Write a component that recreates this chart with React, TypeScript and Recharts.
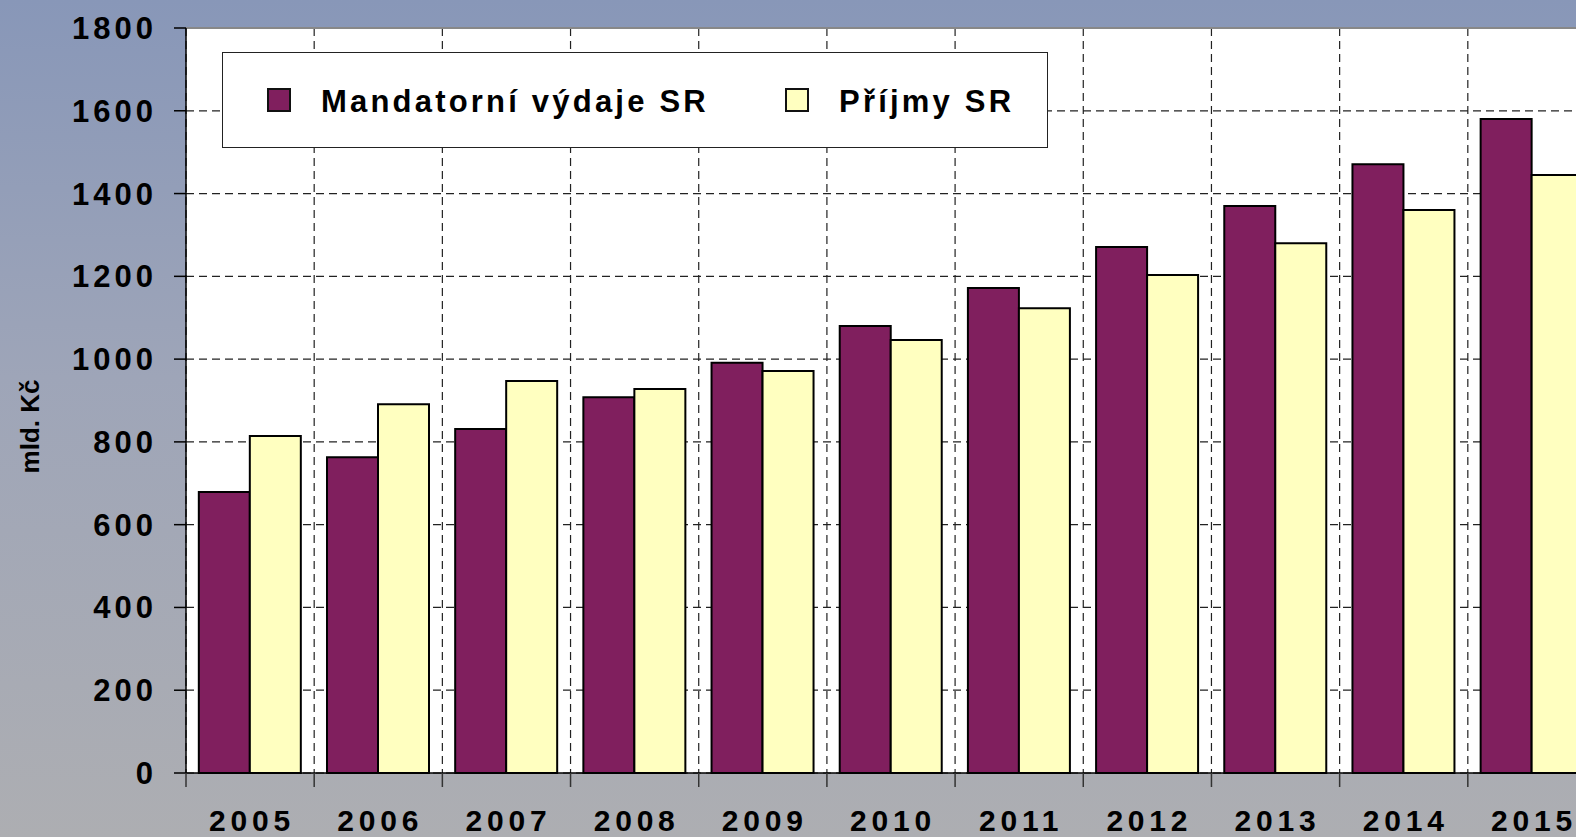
import React from "react";
import {
  BarChart,
  Bar,
  XAxis,
  YAxis,
  CartesianGrid,
  Legend,
  ReferenceLine,
} from "recharts";

const years = ["2005", "2006", "2007", "2008", "2009", "2010", "2011", "2012", "2013", "2014", "2015"];
const mandatory = [679, 763, 831, 908, 991, 1080, 1172, 1271, 1370, 1471, 1580];
const revenues = [814, 891, 947, 928, 971, 1046, 1123, 1203, 1280, 1360, 1445];
const yTicks = [0, 200, 400, 600, 800, 1000, 1200, 1400, 1600, 1800];
const seriesNames = ["Mandatorní výdaje SR", "Příjmy SR"];
const seriesColors = ["#801F5E", "#FFFFC0"];

const data = years.map((year, i) => ({
  year,
  mandatory: mandatory[i],
  revenues: revenues[i],
}));

const FONT = "'Liberation Sans', Arial, sans-serif";
const TICK_LEN = 14;
const X_LABEL_GAP = 37;

const LegendBox = () => (
  <div
    style={{
      width: 826,
      height: 96,
      boxSizing: "border-box",
      background: "#fff",
      border: "1.5px solid #222",
      display: "flex",
      alignItems: "center",
      paddingLeft: 44,
      paddingTop: 4,
      fontFamily: FONT,
      fontWeight: "bold",
      fontSize: 31,
      letterSpacing: 3.2,
      color: "#000",
    }}
  >
    {seriesNames.map((name, i) => (
      <div key={name} style={{ display: "flex", alignItems: "center", width: i === 0 ? 518 : "auto" }}>
        <span
          style={{
            display: "inline-block",
            width: 24,
            height: 24,
            boxSizing: "border-box",
            background: seriesColors[i],
            border: "2px solid #111",
            marginRight: 30,
            marginTop: -4,
          }}
        />
        <span>{name}</span>
      </div>
    ))}
  </div>
);

const YLabel = (props: any) => {
  const vb = props.viewBox || {};
  const x = 30;
  const y = (vb.y || 0) + (vb.height || 0) / 2 + 26;
  return (
    <text
      x={x}
      y={y}
      transform={`rotate(-90, ${x}, ${y})`}
      textAnchor="middle"
      dominantBaseline="central"
      style={{ fontFamily: FONT, fontWeight: "bold", fontSize: 26, fill: "#000" }}
    >
      mld. Kč
    </text>
  );
};

// year label in the middle of the band, tick mark on the band's left edge
const XTick = (props: any) => {
  const { x, y, payload } = props;
  const half = payload && payload.offset ? payload.offset : 0;
  const edge = x - half;
  const axisY = y - X_LABEL_GAP;
  return (
    <g>
      <line x1={edge} x2={edge} y1={axisY} y2={axisY + TICK_LEN} stroke="#333" strokeWidth={1.5} />
      <text
        x={x + 2}
        y={y}
        dy="0.71em"
        textAnchor="middle"
        style={{ fontFamily: FONT, fontWeight: "bold", fontSize: 30, fill: "#000", letterSpacing: 4.8 }}
      >
        {payload.value}
      </text>
    </g>
  );
};

// dashed vertical grid on the boundaries between year bands
const bandEdges = ({ xAxis, offset }: any) => {
  const scale = xAxis && xAxis.scale;
  if (scale && typeof scale === "function" && typeof scale.bandwidth === "function") {
    return years.map((y) => scale(y)).filter((v: any) => typeof v === "number");
  }
  const step = offset.width / years.length;
  return years.map((_, i) => offset.left + i * step);
};

export default function App() {
  return (
    <div
      style={{
        position: "absolute",
        left: 0,
        top: 0,
        width: 1576,
        height: 837,
        overflow: "hidden",
        background: "linear-gradient(to bottom, #8897b8 0%, #9ea5b8 45%, #adaeb2 100%)",
      }}
    >
      <BarChart
        width={1606}
        height={837}
        data={data}
        margin={{ top: 28, right: 10, left: 0, bottom: 0 }}
        barCategoryGap="10%"
        barGap={0}
      >
        <CartesianGrid
          fill="#ffffff"
          stroke="#222"
          strokeDasharray="8 5"
          strokeWidth={1.2}
          verticalCoordinatesGenerator={bandEdges}
        />
        <ReferenceLine y={1800} stroke="#888" strokeWidth={2} />
        <XAxis
          dataKey="year"
          axisLine={{ stroke: "#000", strokeWidth: 1.5 }}
          tickLine={false}
          tickSize={0}
          tickMargin={X_LABEL_GAP}
          height={64}
          interval={0}
          tick={<XTick />}
        />
        <YAxis
          domain={[0, 1800]}
          ticks={yTicks}
          interval={0}
          width={186}
          tickSize={12}
          tickMargin={17}
          axisLine={{ stroke: "#000", strokeWidth: 1.5 }}
          tickLine={{ stroke: "#000", strokeWidth: 1.5 }}
          tick={{ fontFamily: FONT, fontWeight: "bold", fontSize: 31, fill: "#000", letterSpacing: 4 }}
          label={<YLabel />}
        />
        <Legend
          layout="horizontal"
          verticalAlign="middle"
          align="center"
          content={() => <LegendBox />}
          wrapperStyle={{ left: 222, top: 52, width: 826, height: 96 }}
        />
        <Bar
          dataKey="mandatory"
          name={seriesNames[0]}
          fill={seriesColors[0]}
          stroke="#000"
          strokeWidth={2}
          isAnimationActive={false}
        />
        <Bar
          dataKey="revenues"
          name={seriesNames[1]}
          fill={seriesColors[1]}
          stroke="#000"
          strokeWidth={2}
          isAnimationActive={false}
        />
      </BarChart>
    </div>
  );
}
